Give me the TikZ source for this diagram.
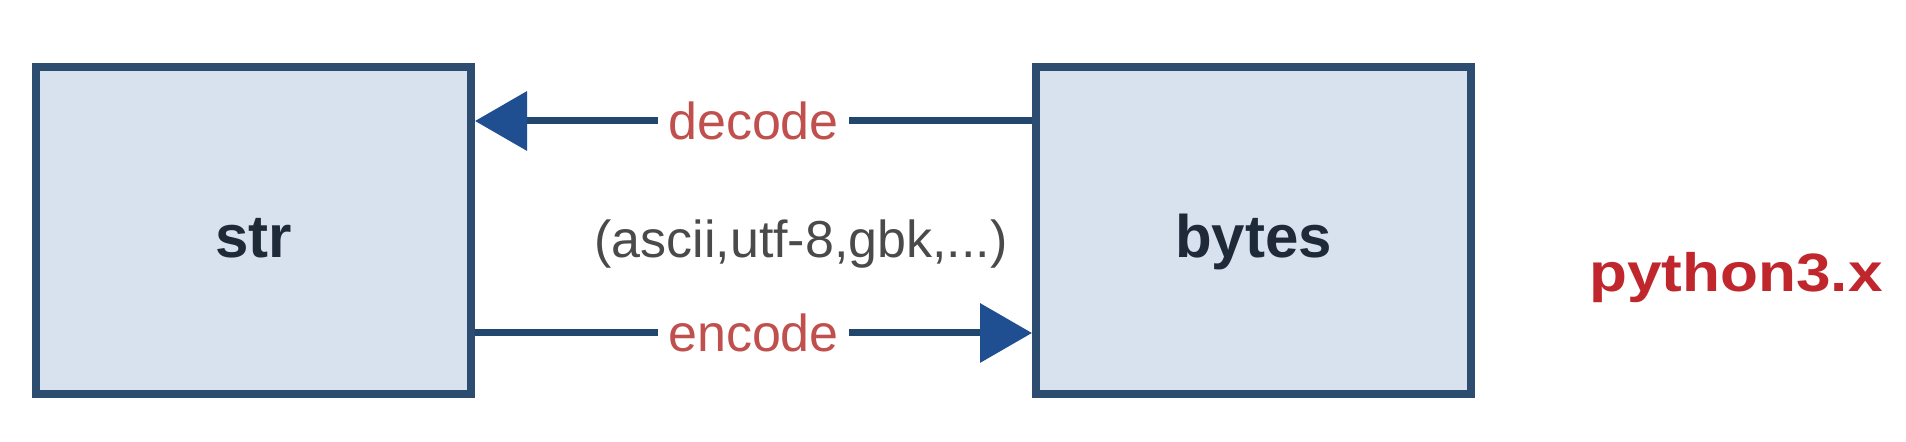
\documentclass[tikz,border=0pt]{standalone}
\usepackage{fontspec}
\usepackage{graphicx}
\setmainfont{Liberation Sans}
\usetikzlibrary{arrows.meta}
\definecolor{boxborder}{HTML}{2C4C70}
\definecolor{boxfill}{HTML}{D8E1EE}
\definecolor{linecol}{HTML}{22476F}
\definecolor{tipcol}{HTML}{1F4E91}
\definecolor{labred}{HTML}{C0504D}
\definecolor{pyred}{HTML}{C0272D}
\definecolor{graytxt}{HTML}{4A4A4A}
\definecolor{boxtext}{HTML}{1F2A38}
\begin{document}
\begin{tikzpicture}[x=0.5pt,y=-0.5pt,
  typebox/.style={draw=boxborder, fill=boxfill, line width=4pt,
    minimum width=217.5pt, minimum height=163.5pt, inner sep=0pt,
    font=\fontsize{30}{30}\selectfont\bfseries, text=boxtext,
    text height=27.5pt, text depth=0pt},
  conv/.style={draw=linecol, line width=3.5pt,
    -{Triangle[length=26pt,width=29pt,color=tipcol]}},
  convlabel/.style={fill=white, text=labred, inner xsep=5pt, inner ysep=2pt,
    font=\fontsize{26}{26}\selectfont},
]
\useasboundingbox[fill=white] (0,0) rectangle (1906,442);
\node[typebox] (str) at (253.5,230.5) {str};
\node[typebox] (bytes) at (1253.5,230.5) {bytes};
\coordinate (ydec) at (0,121);
\coordinate (yenc) at (0,333);
\draw[conv] (bytes.west |- ydec) -- node[convlabel] (dec) {decode} (str.east |- ydec);
\draw[conv] (str.east |- yenc) -- node[convlabel] (enc) {encode} (bytes.west |- yenc);
\node[anchor=base, text=graytxt, font=\fontsize{26}{26}\selectfont] (codecs) at (801,258) {(ascii,utf-8,gbk,...)};
\node[anchor=base, text=pyred, font=\fontsize{27}{27}\selectfont\bfseries] (py) at (1736,292) {\scalebox{1.15}[1]{python3.x}};
\end{tikzpicture}
\end{document}
